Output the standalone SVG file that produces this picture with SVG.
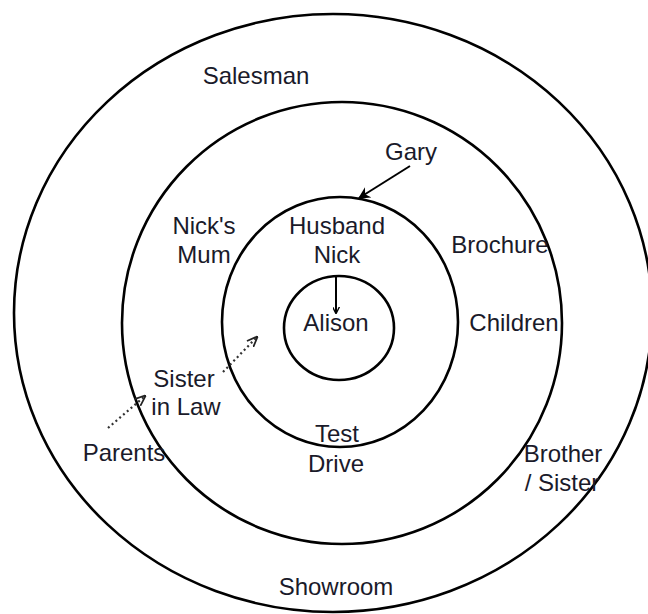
<svg xmlns="http://www.w3.org/2000/svg" width="648" height="614" viewBox="0 0 648 614">
<style>
.ring{fill:none;stroke:#000;stroke-width:2.6}
.lbl{font-family:"Liberation Sans",Arial,sans-serif;font-size:24px;fill:#1a1a2a;text-anchor:middle}
.con{fill:none;stroke:#000;stroke-width:2}
.dot{fill:none;stroke:#333;stroke-width:2.2;stroke-dasharray:2 3}
</style>
<defs>
<marker id="ah" viewBox="0 0 10 10" refX="9" refY="5" markerWidth="7" markerHeight="7" orient="auto" markerUnits="userSpaceOnUse">
<path d="M0,0 L10,5 L0,10" fill="none" stroke="#000" stroke-width="2"/>
</marker>
<marker id="ahs" viewBox="0 0 10 10" refX="9" refY="5" markerWidth="12" markerHeight="12" orient="auto" markerUnits="userSpaceOnUse">
<path d="M0,0 L10,5 L0,10 L3,5 Z" fill="#000"/>
</marker>
<marker id="aho" viewBox="0 0 10 10" refX="9" refY="5" markerWidth="11" markerHeight="11" orient="auto" markerUnits="userSpaceOnUse">
<path d="M0,1 L10,5 L0,9" fill="none" stroke="#222" stroke-width="1.6"/>
</marker>
</defs>
<rect width="648" height="614" fill="#fff"/>
<g id="ring-showroom"><ellipse class="ring" cx="333" cy="313" rx="319" ry="299"/></g>
<g id="ring-family"><ellipse class="ring" cx="342" cy="323" rx="220" ry="221"/></g>
<g id="ring-husband"><ellipse class="ring" cx="340" cy="322" rx="118" ry="125"/></g>
<g id="ring-alison"><ellipse class="ring" cx="339" cy="328" rx="55" ry="52"/></g>
<g id="connectors">
<line class="con" x1="410" y1="166" x2="359" y2="198" marker-end="url(#ahs)"/>
<line class="con" x1="336" y1="277" x2="336" y2="313" marker-end="url(#ah)"/>
<line class="dot" x1="223" y1="372" x2="257" y2="337" marker-end="url(#aho)"/>
<line class="dot" x1="108" y1="428" x2="145" y2="396" marker-end="url(#aho)"/>
</g>
<g id="salesman"><text class="lbl" x="256" y="84">Salesman</text></g>
<g id="gary"><text class="lbl" x="411" y="160">Gary</text></g>
<g id="nicks-mum"><text class="lbl" x="204" y="234">Nick's</text><text class="lbl" x="204" y="263">Mum</text></g>
<g id="husband-nick"><text class="lbl" x="337" y="234">Husband</text><text class="lbl" x="337" y="263">Nick</text></g>
<g id="brochure"><text class="lbl" x="500" y="253">Brochure</text></g>
<g id="alison"><text class="lbl" x="336" y="331">Alison</text></g>
<g id="children"><text class="lbl" x="514" y="331">Children</text></g>
<g id="sister-in-law"><text class="lbl" x="184" y="387">Sister</text><text class="lbl" x="186" y="415">in Law</text></g>
<g id="parents"><text class="lbl" x="124" y="461">Parents</text></g>
<g id="test-drive"><text class="lbl" x="337" y="442">Test</text><text class="lbl" x="336" y="472">Drive</text></g>
<g id="brother-sister"><text class="lbl" x="563" y="462">Brother</text><text class="lbl" x="562" y="491">/ Sister</text></g>
<g id="showroom"><text class="lbl" x="336" y="595">Showroom</text></g>
</svg>
